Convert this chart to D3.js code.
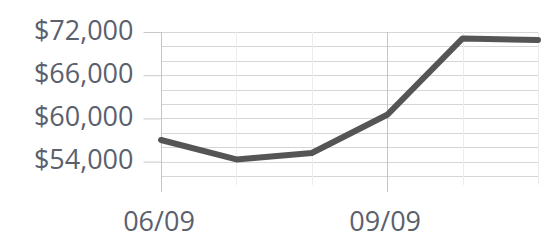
<!DOCTYPE html>
<html>
<head>
<meta charset="utf-8">
<script src="https://cdn.jsdelivr.net/npm/d3@7"></script>
<style>
  body { margin: 0; background: #fff; }
  text { font-family: "Open Sans", sans-serif; }
</style>
</head>
<body>
<div id="chart"></div>
<script>
const dates = ['06/09', '07/09', '08/09', '09/09', '10/09', '11/09'];
const prices = [57000, 54300, 55200, 60500, 71100, 70900];
const labelDates = ['06/09', '09/09'];
const yTicks = [54000, 60000, 66000, 72000];
const gridTicks = [52000, 54000, 56000, 58000, 60000, 62000, 64000, 66000, 68000, 70000, 72000];

const dimension = {
  width: 551,
  height: 245,
  left: 161,
  right: 538,
  top: 32,
  bottom: 176
};

const svg = d3.select('#chart')
  .append('svg')
  .attr('width', dimension.width)
  .attr('height', dimension.height);

const xScale = d3.scalePoint()
  .domain(dates)
  .range([dimension.left, dimension.right]);

const yScale = d3.scaleLinear()
  .domain([52000, 72000])
  .range([dimension.bottom, dimension.top]);

// horizontal grid
svg.append('g')
  .selectAll('line')
  .data(gridTicks)
  .join('line')
  .attr('x1', dimension.left)
  .attr('x2', dimension.right)
  .attr('y1', d => Math.round(yScale(d)) + 0.5)
  .attr('y2', d => Math.round(yScale(d)) + 0.5)
  .attr('stroke', '#d6d6d6');

// vertical grid
svg.append('g')
  .selectAll('line')
  .data(dates.slice(1))
  .join('line')
  .attr('x1', d => Math.round(xScale(d)) + 0.5)
  .attr('x2', d => Math.round(xScale(d)) + 0.5)
  .attr('y1', dimension.top)
  .attr('y2', d => labelDates.includes(d) ? 192 : 185)
  .attr('stroke', d => labelDates.includes(d) ? '#c4c4c4' : '#ededed');

// y axis
const yAxis = d3.axisLeft(yScale)
  .tickValues(yTicks)
  .tickFormat(d => '$' + d3.format(',')(d))
  .tickSize(18)
  .tickPadding(10);

const yg = svg.append('g')
  .attr('transform', `translate(${dimension.left + 0.5},0)`)
  .call(yAxis);
yg.select('.domain').remove();
yg.selectAll('.tick line').attr('stroke', '#c8c8c8');
yg.selectAll('text')
  .attr('fill', '#5b606d')
  .attr('font-size', 27)
  .attr('dy', '0.27em');

svg.append('line')
  .attr('x1', dimension.left + 0.5)
  .attr('x2', dimension.left + 0.5)
  .attr('y1', dimension.top)
  .attr('y2', 192)
  .attr('stroke', '#c4c4c4');

// x labels
svg.append('g')
  .selectAll('text')
  .data(labelDates)
  .join('text')
  .attr('x', d => xScale(d) - 2)
  .attr('y', 231)
  .attr('text-anchor', 'middle')
  .attr('fill', '#5b606d')
  .attr('font-size', 27)
  .text(d => d);

// price line
const line = d3.line()
  .x((d, i) => xScale(dates[i]))
  .y(d => yScale(d));

svg.append('path')
  .datum(prices)
  .attr('d', line)
  .attr('fill', 'none')
  .attr('stroke', '#555555')
  .attr('stroke-width', 6)
  .attr('stroke-linecap', 'round')
  .attr('stroke-linejoin', 'round');
</script>
</body>
</html>
